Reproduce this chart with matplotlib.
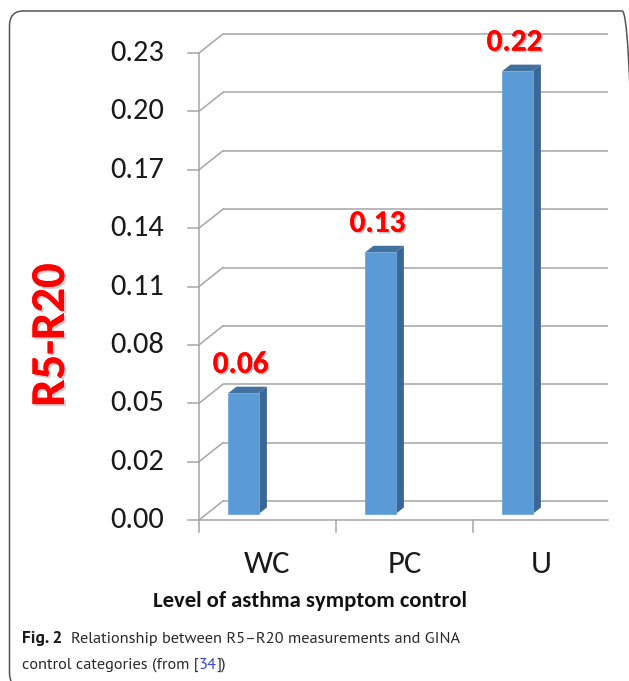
import matplotlib
matplotlib.use("Agg")
import matplotlib.pyplot as plt
import matplotlib.patheffects as pe
from matplotlib.patches import Polygon, FancyBboxPatch

# ---- data ----
categories = ["WC", "PC", "U"]
values = [0.06, 0.13, 0.22]
value_labels = ["0.06", "0.13", "0.22"]
ytick_labels = ["0.00", "0.02", "0.05", "0.08", "0.11", "0.14", "0.17", "0.20", "0.23"]
ytick_step = 0.029
y_label = "R5-R20"
x_label = "Level of asthma symptom control"

CAL = ["Carlito", "Lato", "DejaVu Sans"]
CAP = ["PT Sans", "Lato", "DejaVu Sans"]

W, H = 629, 681
fig = plt.figure(figsize=(W / 100, H / 100), dpi=100)
fig.patch.set_facecolor("white")

def fx(px):
    return px / W

def fy(py):
    return 1 - py / H

# background overlay axes in figure coordinates
bg = fig.add_axes([0, 0, 1, 1])
bg.set_xlim(0, 1)
bg.set_ylim(0, 1)
bg.axis("off")
bg.patch.set_alpha(0)

# front plot area: x 199..610 px, y 520 (0) .. 53 (top)
ymax = ytick_step * (len(ytick_labels) - 1)
ax = fig.add_axes([fx(199), fy(520), 411 / W, 467 / H])
ax.set_xlim(0, len(categories))
ax.set_ylim(0, ymax)
ax.axis("off")

xpp = len(categories) / ax.bbox.width   # data x per pixel
ypp = ymax / ax.bbox.height             # data y per pixel
DX, DY = 24, 19  # depth offset in pixels for full depth

def off(d):
    return DX * d * xpp, DY * d * ypp

grid_c = "#A6A6A6"
glw = 1.1
x_right = 409 * xpp  # lines end at 608 px

bx, by = off(1.0)
for i in range(len(ytick_labels)):
    v = i * ytick_step
    ax.plot([bx, x_right], [v + by, v + by], color=grid_c, lw=glw, clip_on=False, solid_capstyle="butt")
    ax.plot([0, bx], [v, v + by], color=grid_c, lw=glw, clip_on=False)
    ax.plot([-11 * xpp, 0], [v, v], color=grid_c, lw=glw, clip_on=False)
    ax.annotate(ytick_labels[i], xy=(0, v), xytext=(-35, 0), textcoords="offset pixels",
                ha="right", va="center", fontsize=22, family=CAL, color="#1a1a1a",
                annotation_clip=False)

ax.plot([0, x_right], [0, 0], color=grid_c, lw=glw, clip_on=False)
ax.plot([0, 0], [-12 * ypp, ymax], color=grid_c, lw=glw, clip_on=False)
for i in range(1, len(categories)):
    ax.plot([i, i], [-12 * ypp, 0], color=grid_c, lw=glw, clip_on=False)

# bars (pseudo 3D)
d1, d2 = 0.32, 0.66
bar_left, bar_w = 0.158, 0.222
o1x, o1y = off(d1)
o2x, o2y = off(d2)
front_c, side_c, top_c = "#5B9BD5", "#3B6796", "#41719C"
for i, v in enumerate(values):
    xl = i + bar_left
    xr = xl + bar_w
    front = [(xl + o1x, o1y), (xr + o1x, o1y), (xr + o1x, v + o1y), (xl + o1x, v + o1y)]
    side = [(xr + o1x, o1y), (xr + o2x, o2y), (xr + o2x, v + o2y), (xr + o1x, v + o1y)]
    top = [(xl + o1x, v + o1y), (xr + o1x, v + o1y), (xr + o2x, v + o2y), (xl + o2x, v + o2y)]
    ax.add_patch(Polygon(side, closed=True, facecolor=side_c, edgecolor="none", clip_on=False, zorder=3))
    ax.add_patch(Polygon(top, closed=True, facecolor=top_c, edgecolor="none", clip_on=False, zorder=3))
    ax.add_patch(Polygon(front, closed=True, facecolor=front_c, edgecolor="#6FA8DC", lw=0.6, clip_on=False, zorder=4))
    ax.annotate(value_labels[i], xy=((xl + xr) / 2 + o1x, v + o2y), xytext=(-3, 22),
                textcoords="offset pixels", ha="center", va="center", fontsize=22.5,
                fontweight="bold", family=CAL, color="#FF0000", zorder=5,
                annotation_clip=False,
                path_effects=[pe.withSimplePatchShadow(offset=(1.2, -1.2), shadow_rgbFace="#777777", alpha=0.45),
                              pe.Normal()])

for i, c in enumerate(categories):
    ax.annotate(c, xy=(i + 0.5, 0), xytext=(0, -44), textcoords="offset pixels",
                ha="center", va="center", fontsize=23.5, family=CAL, color="#1a1a1a",
                annotation_clip=False)

# axis titles
bg.text(fx(310), fy(601), x_label, ha="center", va="center", fontsize=16.3,
        fontweight="bold", family=CAL, color="#111111")
bg.text(fx(51), fy(335), y_label, ha="center", va="center", rotation=90, fontsize=35,
        fontweight="bold", family=CAL, color="#FF0000",
        path_effects=[pe.withSimplePatchShadow(offset=(1.5, -1.5), shadow_rgbFace="#888888", alpha=0.4),
                      pe.Normal()])

# frame
frame = FancyBboxPatch((fx(9.5), fy(688)), fx(636) - fx(9.5), fy(11) - fy(688),
                       boxstyle="round,pad=0,rounding_size=0.022", transform=bg.transAxes,
                       facecolor="none", edgecolor="#555555", lw=1.1, clip_on=False)
bg.add_patch(frame)

# caption
cap_font = dict(fontsize=11.8, family=CAP, color="#2a2a2a")
t1 = bg.text(fx(22), fy(643), "Fig. 2", ha="left", va="baseline", fontweight="bold",
             fontsize=12.5, family=CAP, color="#1a1a1a")
t2 = bg.annotate("Relationship between R5\u2013R20 measurements and GINA", xy=(1, 0), xycoords=t1,
                 xytext=(9, 0), textcoords="offset pixels", ha="left", va="bottom", **cap_font)
t3 = bg.text(fx(22), fy(669), "control categories (from [", ha="left", va="baseline", **cap_font)
t4 = bg.annotate("34", xy=(1, 0), xycoords=t3, ha="left", va="bottom",
                 fontsize=11.8, family=CAP, color="#3344CC")
t5 = bg.annotate("])", xy=(1, 0), xycoords=t4, ha="left", va="bottom", **cap_font)

fig.savefig("out.png", dpi=100, facecolor="white")
